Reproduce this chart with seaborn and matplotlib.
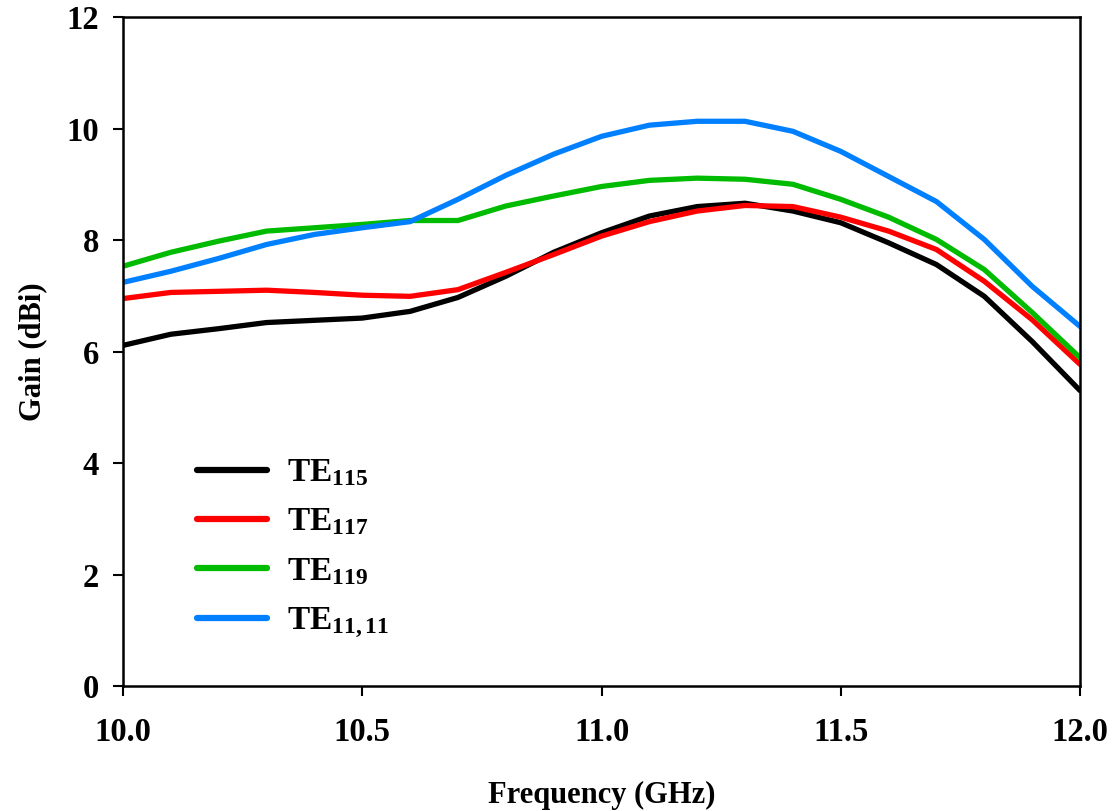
import matplotlib
matplotlib.use("Agg")
import matplotlib.pyplot as plt
import seaborn as sns
import pandas as pd

freq = [10.0, 10.1, 10.2, 10.3, 10.4, 10.5, 10.6, 10.7, 10.8, 10.9, 11.0,
        11.1, 11.2, 11.3, 11.4, 11.5, 11.6, 11.7, 11.8, 11.9, 12.0]
te115 = [6.11, 6.31, 6.41, 6.52, 6.56, 6.60, 6.72, 6.97, 7.35, 7.78, 8.13,
         8.43, 8.60, 8.66, 8.52, 8.31, 7.95, 7.56, 6.99, 6.18, 5.30]
te117 = [6.95, 7.06, 7.08, 7.10, 7.06, 7.01, 6.99, 7.11, 7.42, 7.74, 8.07,
         8.33, 8.52, 8.62, 8.60, 8.41, 8.16, 7.83, 7.26, 6.57, 5.77]
te119 = [7.53, 7.78, 7.98, 8.16, 8.22, 8.28, 8.35, 8.35, 8.61, 8.79, 8.96,
         9.07, 9.11, 9.09, 9.00, 8.73, 8.41, 8.01, 7.47, 6.70, 5.89]
te1111 = [7.24, 7.44, 7.67, 7.92, 8.10, 8.22, 8.33, 8.73, 9.16, 9.54, 9.86,
          10.06, 10.13, 10.13, 9.95, 9.59, 9.14, 8.69, 8.01, 7.17, 6.45]
labels = [r"$\mathrm{TE}_{115}$", r"$\mathrm{TE}_{117}$",
          r"$\mathrm{TE}_{119}$", r"$\mathrm{TE}_{11,11}$"]
colors = ["#000000", "#ff0000", "#00bb00", "#0080ff"]

sns.set_theme(style="white")
plt.rcParams["font.family"] = ["Liberation Serif", "DejaVu Serif"]
plt.rcParams["font.weight"] = "bold"
plt.rcParams["text.color"] = "black"
plt.rcParams["axes.labelcolor"] = "black"
plt.rcParams["xtick.color"] = "black"
plt.rcParams["ytick.color"] = "black"
plt.rcParams["mathtext.fontset"] = "custom"
plt.rcParams["mathtext.rm"] = "Liberation Serif:bold"
plt.rcParams["mathtext.it"] = "Liberation Serif:bold"
plt.rcParams["mathtext.bf"] = "Liberation Serif:bold"

frames = []
for lab, vals in zip(labels, [te115, te117, te119, te1111]):
    frames.append(pd.DataFrame({"freq": freq, "gain": vals, "mode": lab}))
df = pd.concat(frames, ignore_index=True)

fig = plt.figure(figsize=(11.14, 8.11), dpi=100)
ax = fig.add_axes([0.1104, 0.1541, 0.8591, 0.8249])
sns.lineplot(data=df, x="freq", y="gain", hue="mode", palette=colors,
             linewidth=3.8, ax=ax, legend=True)

ax.set_xlim(10.0, 12.0)
ax.set_ylim(0, 12)
ax.set_xticks([10.0, 10.5, 11.0, 11.5, 12.0])
ax.set_xticklabels(["10.0", "10.5", "11.0", "11.5", "12.0"])
ax.set_yticks([0, 2, 4, 6, 8, 10, 12])
ax.tick_params(axis="both", direction="out", length=7, width=1.5,
               labelsize=23.5, bottom=True, left=True, colors="black")
ax.tick_params(axis="x", pad=15)
ax.tick_params(axis="y", pad=10)
for lbl in ax.get_xticklabels() + ax.get_yticklabels():
    lbl.set_fontweight("bold")
for s in ax.spines.values():
    s.set_visible(True)
    s.set_color("black")
    s.set_linewidth(1.8)

ax.set_xlabel("Frequency (GHz)", fontsize=22, fontweight="bold", labelpad=24)
ax.set_ylabel("Gain (dBi)", fontsize=22, fontweight="bold", labelpad=14)

leg = ax.legend(loc="upper left", bbox_to_anchor=(0.077, 0.342), frameon=False,
                fontsize=24, handlelength=2.1, handletextpad=0.6,
                labelspacing=0.55, borderpad=0, borderaxespad=0)
for line in leg.get_lines():
    line.set_linewidth(4.5)

fig.savefig("out.png", dpi=100, facecolor="white")
